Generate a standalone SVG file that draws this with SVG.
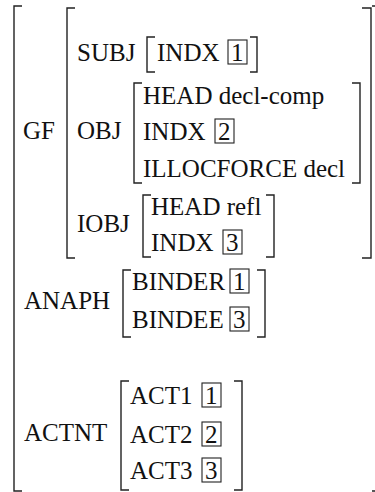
<svg xmlns="http://www.w3.org/2000/svg" width="375" height="492" viewBox="0 0 375 492">
<style>
text{font-family:'Liberation Serif','Times New Roman',serif;font-size:25px;fill:#111}
.br{fill:none;stroke:#222;stroke-width:1.4}
.box{fill:none;stroke:#222;stroke-width:1.1}
</style>
<rect width="375" height="492" fill="#fff"/>
<g id="outer">
<path class="br" d="M22,6 H14 V491 H22"/>
<path class="br" d="M372,6 H377 V491 H372"/>
<text x="23" y="139">GF</text>
<text x="24" y="309">ANAPH</text>
<text x="24" y="441">ACTNT</text>
</g>
<g id="gf">
<path class="br" d="M75,8 H67 V258 H75"/>
<path class="br" d="M362,8 H371 V258 H362"/>
<text x="77" y="61">SUBJ</text>
<text x="77" y="139">OBJ</text>
<text x="77" y="232">IOBJ</text>
</g>
<g id="subj">
<path class="br" d="M155,37 H147 V72 H155"/>
<path class="br" d="M250,37 H257 V72 H250"/>
<text x="157" y="61">INDX</text>
<rect class="box" x="228" y="40" width="19" height="24"/>
<text x="231" y="61">1</text>
</g>
<g id="obj">
<path class="br" d="M142,83 H134 V183 H142"/>
<path class="br" d="M352,83 H360 V183 H352"/>
<text x="143" y="104">HEAD decl-comp</text>
<text x="143" y="140">INDX</text>
<rect class="box" x="215" y="119" width="19" height="24"/>
<text x="218" y="140">2</text>
<text x="143" y="177">ILLOCFORCE decl</text>
</g>
<g id="iobj">
<path class="br" d="M151,195 H143 V257 H151"/>
<path class="br" d="M266,195 H274 V257 H266"/>
<text x="151" y="215">HEAD refl</text>
<text x="151" y="251">INDX</text>
<rect class="box" x="223" y="230" width="19" height="24"/>
<text x="226" y="251">3</text>
</g>
<g id="anaph">
<path class="br" d="M131,270 H123 V337 H131"/>
<path class="br" d="M257,270 H265 V337 H257"/>
<text x="132" y="290">BINDER</text>
<rect class="box" x="230" y="269" width="19" height="24"/>
<text x="233" y="290">1</text>
<text x="132" y="328">BINDEE</text>
<rect class="box" x="230" y="307" width="19" height="24"/>
<text x="233" y="328">3</text>
</g>
<g id="actnt">
<path class="br" d="M129,381 H121 V490 H129"/>
<path class="br" d="M234,381 H242 V490 H234"/>
<text x="130" y="404">ACT1</text>
<rect class="box" x="202" y="383" width="19" height="24"/>
<text x="205" y="404">1</text>
<text x="130" y="443">ACT2</text>
<rect class="box" x="202" y="422" width="19" height="24"/>
<text x="205" y="443">2</text>
<text x="130" y="479">ACT3</text>
<rect class="box" x="202" y="458" width="19" height="24"/>
<text x="205" y="479">3</text>
</g>
</svg>
